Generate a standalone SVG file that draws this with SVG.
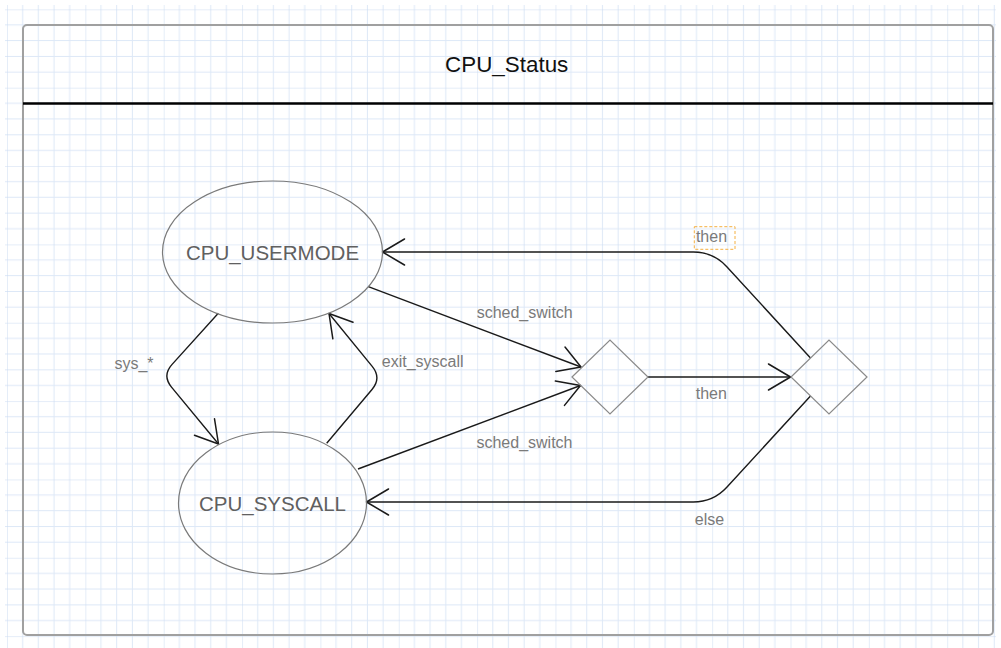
<svg xmlns="http://www.w3.org/2000/svg" width="1001" height="648" viewBox="0 0 1001 648">
  <style>
    .state { fill: none; stroke: #7a7a7a; stroke-width: 1.2; }
    .choice { fill: none; stroke: #8a8a8a; stroke-width: 1.2; }
    .stext { font-family: "Liberation Sans", Arial, sans-serif; font-size: 20.5px; fill: #606060; text-anchor: middle; }
    .lbl { font-family: "Liberation Sans", Arial, sans-serif; font-size: 16px; fill: #7a7a7a; text-anchor: middle; }
    .edge { fill: none; stroke: #1a1a1a; stroke-width: 1.4; stroke-linejoin: round; }
  </style>
  <defs>
    <pattern id="grid" patternUnits="userSpaceOnUse" x="7" y="9.33" width="78.35" height="78.35">
      <path d="M15.67,0 V78.35 M31.34,0 V78.35 M47.01,0 V78.35 M62.68,0 V78.35 M0,15.67 H78.35 M0,31.34 H78.35 M0,47.01 H78.35 M0,62.68 H78.35" stroke="#dde8f7" stroke-width="1" fill="none"/>
      <path d="M0,0 V78.35 M0,0 H78.35" stroke="#cbdbf2" stroke-width="1" fill="none"/>
    </pattern>
    <marker id="arrow" markerUnits="userSpaceOnUse" markerWidth="40" markerHeight="40" refX="0" refY="0" orient="auto" overflow="visible" viewBox="-30 -20 40 40">
      <path d="M-22,-13 L0,0 L-22,13" fill="none" stroke="#1a1a1a" stroke-width="1.5" stroke-linejoin="round" stroke-linecap="round"/>
    </marker>
  </defs>

  <rect x="0" y="0" width="1001" height="648" fill="#ffffff"/>
  <rect x="5" y="5" width="991" height="643" fill="url(#grid)"/>

  <g id="container">
    <rect x="23" y="25" width="970" height="610" rx="4" ry="4" fill="none" stroke="#a0a0a0" stroke-width="2"/>
    <line x1="23" y1="103.5" x2="993" y2="103.5" stroke="#000000" stroke-width="2.6"/>
    <text x="506.7" y="71.5" font-family="'Liberation Sans', Arial, sans-serif" font-size="22.4px" fill="#111111" text-anchor="middle">CPU_Status</text>
  </g>

  <g id="connectors">
    <path class="edge" d="M368.3,286.7 L581,367" marker-end="url(#arrow)"/>
    <path class="edge" d="M358,469 L580.5,385.5" marker-end="url(#arrow)"/>
    <path class="edge" d="M648,377 L790.5,377" marker-end="url(#arrow)"/>
    <path class="edge" d="M810.5,358 L726.8,266.7 Q713.3,252 693.3,252 L382.5,252" marker-end="url(#arrow)"/>
    <path class="edge" d="M810.5,396 L726.8,487.3 Q713.3,502 693.3,502 L366.5,502" marker-end="url(#arrow)"/>
    <path class="edge" d="M218.3,313.3 L172.1,364.4 Q162,375.5 171.5,387.1 L218.5,444" marker-end="url(#arrow)"/>
    <path class="edge" d="M326.7,443.3 L372,389.5 Q381.7,378 372.2,366.4 L329,313.5" marker-end="url(#arrow)"/>
    <text class="lbl" x="524.7" y="318.3">sched_switch</text>
    <text class="lbl" x="524.5" y="447.7">sched_switch</text>
    <text class="lbl" x="422.7" y="366.7">exit_syscall</text>
    <text class="lbl" x="134" y="369">sys_*</text>
    <text class="lbl" x="711.3" y="399">then</text>
    <rect x="694.3" y="226.7" width="40.7" height="22.6" fill="none" stroke="#f5b041" stroke-width="1" stroke-dasharray="3 2"/>
    <text class="lbl" x="711.5" y="242">then</text>
    <text class="lbl" x="709.5" y="525">else</text>
  </g>

  <g id="cpu_usermode">
    <ellipse class="state" cx="272.5" cy="252" rx="110" ry="71"/>
    <text class="stext" x="272.5" y="260">CPU_USERMODE</text>
  </g>
  <g id="cpu_syscall">
    <ellipse class="state" cx="272.5" cy="503" rx="94" ry="71"/>
    <text class="stext" x="272.5" y="510.7">CPU_SYSCALL</text>
  </g>
  <g id="choice1">
    <polygon class="choice" points="572,377 610,340 648,377 610,414"/>
  </g>
  <g id="choice2">
    <polygon class="choice" points="791,377 829,340 867,377 829,414"/>
  </g>
</svg>
